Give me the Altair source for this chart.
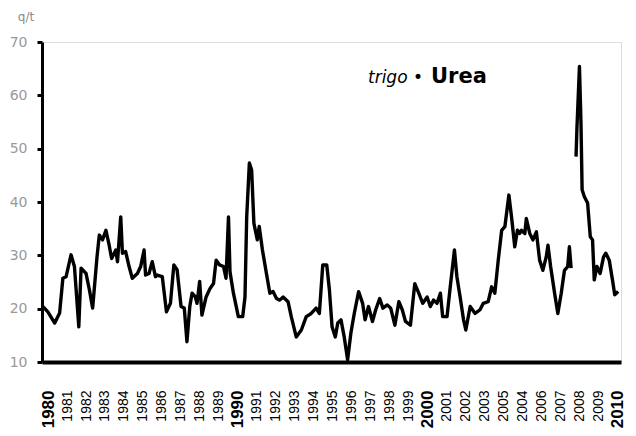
import json
import altair as alt
import pandas as pd

# Monthly-ish readings of the wheat/urea price ratio (q/t)
years_a = [1979.73, 1979.99, 1980.35, 1980.61, 1980.78, 1980.95, 1981.21, 1981.39, 1981.48, 1981.62,
           1981.74, 1982.00, 1982.18, 1982.35, 1982.58, 1982.70, 1982.87, 1983.05, 1983.22, 1983.35,
           1983.57, 1983.66, 1983.83, 1983.92, 1984.09, 1984.27, 1984.44, 1984.71, 1984.88, 1985.06,
           1985.14, 1985.32, 1985.49, 1985.66, 1985.75, 1986.02, 1986.24, 1986.45, 1986.63, 1986.80,
           1987.01, 1987.18, 1987.32, 1987.47, 1987.59, 1987.76, 1987.85, 1987.99, 1988.11, 1988.33,
           1988.54, 1988.72, 1988.86, 1989.04, 1989.25, 1989.38, 1989.51, 1989.59, 1989.77, 1990.03,
           1990.26, 1990.38, 1990.47, 1990.61, 1990.73, 1990.85, 1991.03, 1991.13, 1991.30, 1991.51,
           1991.69, 1991.86, 1992.04, 1992.21, 1992.39, 1992.65, 1992.82, 1993.08, 1993.35, 1993.61,
           1993.87, 1994.13, 1994.30, 1994.48, 1994.69, 1994.83, 1994.97, 1995.14, 1995.27, 1995.44,
           1995.61, 1995.79, 1995.96, 1996.14, 1996.37, 1996.58, 1996.71, 1996.89, 1997.10, 1997.27,
           1997.48, 1997.65, 1997.88, 1998.06, 1998.28, 1998.49, 1998.67, 1998.84, 1999.10, 1999.33,
           1999.54, 1999.75, 1999.98, 2000.15, 2000.32, 2000.50, 2000.68, 2000.80, 2001.03, 2001.20,
           2001.42, 2001.55, 2001.72, 2001.90, 2002.02, 2002.25, 2002.51, 2002.77, 2002.94, 2003.20,
           2003.38, 2003.55, 2003.73, 2003.91, 2004.08, 2004.29, 2004.43, 2004.60, 2004.74, 2004.86,
           2004.95, 2005.13, 2005.21, 2005.39, 2005.56, 2005.74, 2005.91, 2006.08, 2006.26, 2006.35,
           2006.49, 2006.70, 2006.87, 2007.05, 2007.22, 2007.39, 2007.48, 2007.57]
values_a = [20.4, 19.4, 17.3, 19.2, 25.7, 26.0, 30.1, 27.9, 23.5, 16.6,
            27.6, 26.6, 23.5, 20.1, 29.7, 33.8, 32.9, 34.7, 31.9, 29.4,
            31.0, 28.8, 37.2, 30.4, 30.7, 27.9, 25.7, 26.6, 27.9, 31.0,
            26.3, 26.6, 28.8, 26.0, 26.3, 26.0, 19.4, 21.0, 28.2, 27.3,
            20.4, 20.1, 13.8, 20.4, 22.9, 22.2, 21.0, 25.1, 18.8, 22.2,
            23.8, 24.7, 29.1, 28.2, 27.9, 25.7, 37.2, 26.9, 22.9, 18.5,
            18.5, 22.2, 37.2, 47.3, 46.0, 36.0, 32.9, 35.4, 31.0, 26.6,
            22.9, 23.2, 21.9, 21.6, 22.2, 21.3, 18.5, 14.7, 16.0, 18.5,
            19.1, 20.1, 19.1, 28.2, 28.2, 23.5, 16.6, 14.7, 17.3, 17.9,
            14.7, 10.4, 15.4, 19.1, 23.2, 21.0, 17.9, 20.4, 17.6, 19.8,
            21.9, 20.1, 20.7, 20.1, 16.9, 21.3, 19.8, 17.6, 16.9, 24.7,
            22.9, 21.0, 22.2, 20.4, 21.6, 21.0, 22.9, 18.5, 18.5, 24.1,
            31.0, 26.0, 22.2, 17.9, 16.0, 20.4, 19.1, 19.8, 21.0, 21.3,
            24.1, 22.9, 29.1, 34.7, 35.4, 41.3, 37.2, 31.6, 34.7, 34.1,
            34.7, 34.1, 36.9, 34.1, 32.9, 34.4, 29.1, 27.2, 29.7, 31.9,
            27.9, 22.9, 19.1, 22.9, 27.2, 27.9, 31.6, 27.6]
years_b = [2007.83, 2007.88, 2008.01, 2008.09, 2008.15, 2008.27, 2008.44, 2008.58, 2008.70, 2008.79,
           2008.93, 2009.10, 2009.28, 2009.40, 2009.58, 2009.75, 2009.87, 2010.05]
values_b = [48.5, 54.1, 65.4, 54.8, 42.3, 41.0, 39.8, 33.5, 32.9, 25.4,
            27.9, 26.6, 29.7, 30.4, 29.1, 25.4, 22.6, 23.2]

tick_years = list(range(1980, 2011))
tick_labels = ["1980", "1981", "1982", "1983", "1984", "1985", "1986", "1987", "1988", "1989",
               "1990", "1991", "1992", "1993", "1994", "1995", "1996", "1997", "1998", "1999",
               "2000", "2001", "2002", "2003", "2005", "2004", "2006", "2007", "2008", "2009",
               "2010"]
y_ticks = [10, 20, 30, 40, 50, 60, 70]

df = pd.DataFrame({
    "year": years_a + years_b,
    "value": values_a + values_b,
    "seg": ["a"] * len(years_a) + ["b"] * len(years_b),
})

label_expr = "%s[round(datum.value) - 1980]" % json.dumps(tick_labels)
decade = "datum.value % 10 === 0"

W, H = 579, 320

line = alt.Chart(df).mark_line(color="black", strokeWidth=3.4, strokeJoin="round").encode(
    x=alt.X("year:Q",
            scale=alt.Scale(domain=[1979.68, 2010.2], nice=False, zero=False),
            axis=alt.Axis(values=tick_years, labelExpr=label_expr, labelAngle=270,
                          labelFont="Liberation Sans", labelColor="black",
                          labelFontSize={"condition": {"test": decade, "value": 17}, "value": 14},
                          labelFontWeight={"condition": {"test": decade, "value": "bold"},
                                           "value": "normal"},
                          labelPadding=28, ticks=False, grid=False, title=None,
                          domainColor="black", domainWidth=4, labelOverlap=False,
                          labelFlush=False)),
    y=alt.Y("value:Q",
            scale=alt.Scale(domain=[10, 70], nice=False, zero=False),
            axis=alt.Axis(values=y_ticks, labelFontSize=14, labelFont="DejaVu Sans",
                          labelColor="#999999", labelPadding=10, tickColor="black",
                          tickWidth=3, tickSize=5, grid=False, title=None,
                          domainColor="black", domainWidth=3)),
    detail="seg:N",
)

unit = alt.Chart(pd.DataFrame({"t": ["q/t"]})).mark_text(
    font="DejaVu Sans", fontSize=12, color="#8c8c8c", align="center", baseline="middle"
).encode(text="t:N", x=alt.value(-16), y=alt.value(-25))

trigo = alt.Chart(pd.DataFrame({"t": ["trigo \u2022"]})).mark_text(
    font="DejaVu Sans", fontSize=17, fontStyle="italic", color="black",
    align="right", baseline="alphabetic"
).encode(text="t:N", x=alt.value(381), y=alt.value(41))

urea = alt.Chart(pd.DataFrame({"t": ["Urea"]})).mark_text(
    font="DejaVu Sans", fontSize=21, fontWeight="bold", color="black",
    align="left", baseline="alphabetic"
).encode(text="t:N", x=alt.value(389), y=alt.value(41))

chart = alt.layer(line, unit, trigo, urea).properties(
    width=W, height=H,
    autosize=alt.AutoSizeParams(type="none"),
    padding={"left": 34, "top": 34, "right": 6, "bottom": 70},
).configure_view(stroke=None).configure(background="white")

chart.save("out.html", embed_options={"renderer": "svg", "actions": False})
